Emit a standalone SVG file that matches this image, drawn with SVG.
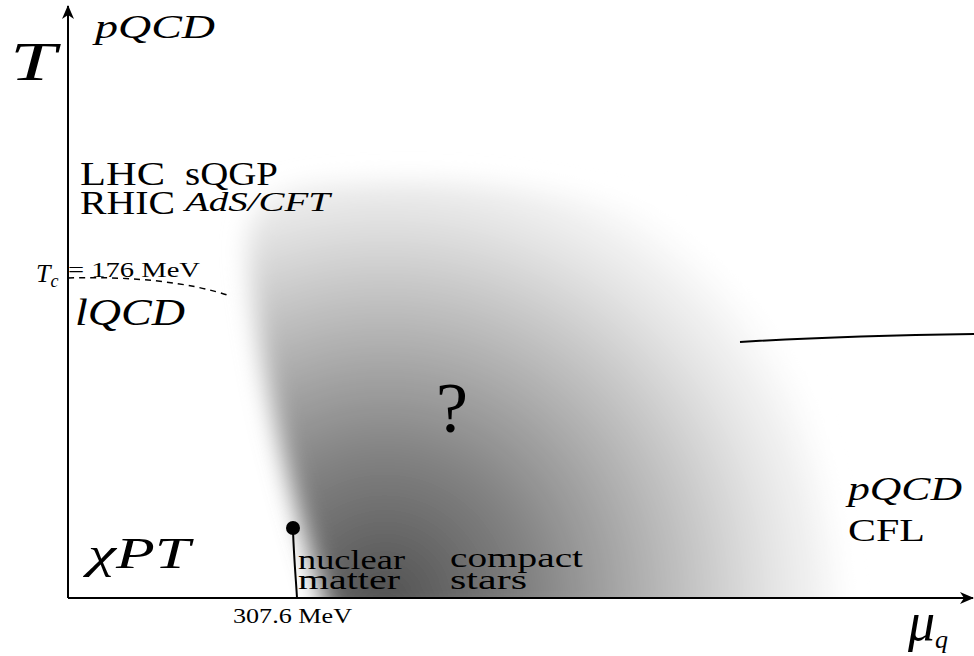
<svg xmlns="http://www.w3.org/2000/svg" width="974" height="656" viewBox="0 0 974 656">
<style>
.it{font-style:italic}
.ax{stroke:#000;stroke-width:2;fill:none}
</style>
<defs>
<radialGradient id="g" gradientUnits="userSpaceOnUse" cx="385" cy="600" r="470">
<stop offset="0" stop-color="#505050"/>
<stop offset="0.3" stop-color="#808080"/>
<stop offset="0.55" stop-color="#b0b0b0"/>
<stop offset="0.8" stop-color="#e0e0e0"/>
<stop offset="1" stop-color="#ffffff"/>
</radialGradient>
<filter id="b" x="-20%" y="-20%" width="140%" height="140%"><feGaussianBlur stdDeviation="12"/></filter>
<clipPath id="c"><rect x="69" y="0" width="905" height="597"/></clipPath>
<marker id="ah" markerWidth="14" markerHeight="12" refX="13" refY="6" orient="auto" markerUnits="userSpaceOnUse"><path d="M0,0 L14,6 L0,12 L4,6 Z" fill="#000"/></marker>
</defs>
<g id="region" clip-path="url(#c)">
<path d="M330,620 C300,520 268,420 250,280 C242,215 255,195 310,185 C460,172 630,185 735,255 C795,335 825,450 845,620 Z" fill="url(#g)" filter="url(#b)"/>
</g>
<g id="connectors">
<path class="ax" d="M68,598 L68,6" marker-end="url(#ah)"/>
<path class="ax" d="M68,598 L973,598" marker-end="url(#ah)"/>
<path d="M740,342 C820,337 900,335 974,334" stroke="#000" stroke-width="2" fill="none"/>
<path d="M68,278 C130,276 190,282 230,296" stroke="#000" stroke-width="1.5" stroke-dasharray="6,5" fill="none"/>
<path d="M293,530 C294,560 296,580 297,598" stroke="#000" stroke-width="2" fill="none"/>
<circle cx="293" cy="528" r="7" fill="#000"/>
</g>
<g id="labels" font-family="'Liberation Serif', 'Times New Roman', serif" fill="#000">
<text x="10" y="80" class="it" font-size="54" textLength="46" lengthAdjust="spacingAndGlyphs">T</text>
<text x="95" y="38" class="it" font-size="34" textLength="120" lengthAdjust="spacingAndGlyphs">pQCD</text>
<text x="80" y="185" font-size="34" textLength="85" lengthAdjust="spacingAndGlyphs">LHC</text>
<text x="185" y="185" font-size="34" textLength="93" lengthAdjust="spacingAndGlyphs">sQGP</text>
<text x="80" y="214" font-size="34" textLength="95" lengthAdjust="spacingAndGlyphs">RHIC</text>
<text x="185" y="211" class="it" font-size="28" textLength="145" lengthAdjust="spacingAndGlyphs">AdS/CFT</text>
<text x="36" y="282" class="it" font-size="26">T<tspan font-size="18" dy="5">c</tspan></text>
<text x="68" y="277" font-size="21" textLength="132" lengthAdjust="spacingAndGlyphs">= 176 MeV</text>
<text x="75" y="325" class="it" font-size="38" textLength="110" lengthAdjust="spacingAndGlyphs">lQCD</text>
<text x="436" y="432" font-size="72" textLength="32" lengthAdjust="spacingAndGlyphs">?</text>
<text x="88" y="568" class="it" font-size="44" textLength="102" lengthAdjust="spacingAndGlyphs">χPT</text>
<text x="298" y="569" font-size="28" textLength="107" lengthAdjust="spacingAndGlyphs">nuclear</text>
<text x="298" y="589" font-size="28" textLength="102" lengthAdjust="spacingAndGlyphs">matter</text>
<text x="450" y="567" font-size="28" textLength="133" lengthAdjust="spacingAndGlyphs">compact</text>
<text x="450" y="589" font-size="28" textLength="77" lengthAdjust="spacingAndGlyphs">stars</text>
<text x="233" y="623" font-size="22" textLength="119" lengthAdjust="spacingAndGlyphs">307.6 MeV</text>
<text x="848" y="500" class="it" font-size="34" textLength="114" lengthAdjust="spacingAndGlyphs">pQCD</text>
<text x="848" y="541" font-size="32" textLength="77" lengthAdjust="spacingAndGlyphs">CFL</text>
<text x="908" y="640" class="it" font-size="54">μ<tspan font-size="26" dy="8">q</tspan></text>
</g>
</svg>
